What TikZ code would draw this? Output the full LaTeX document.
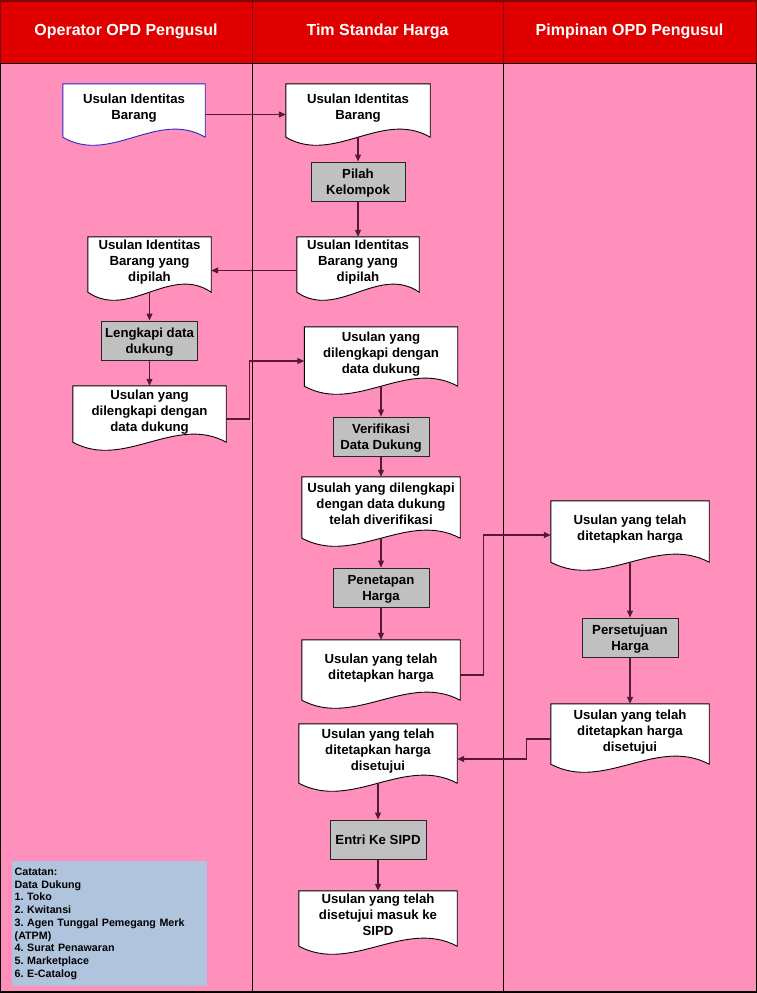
\documentclass[tikz,border=0pt]{standalone}
\usepackage{fontspec}
\setmainfont{Liberation Sans}
\usepackage{tikz}
\usetikzlibrary{arrows.meta,backgrounds,calc,positioning}
\frenchspacing

\definecolor{laneRed}{RGB}{224,0,0}
\definecolor{laneDark}{RGB}{125,10,10}
\definecolor{lanePink}{RGB}{255,143,187}
\definecolor{procGrey}{RGB}{192,192,192}
\definecolor{noteBlue}{RGB}{176,196,222}
\definecolor{flowLine}{RGB}{85,25,55}
\definecolor{docBlue}{RGB}{40,40,200}

\tikzset{
  lanetitle/.style={text=white,font=\bfseries\fontsize{16}{19}\selectfont},
  doc/.style={inner sep=0pt,align=center,text depth=7pt,font=\bfseries\fontsize{13.2}{16}\selectfont},
  proc/.style={draw=black!85,line width=1pt,fill=procGrey,inner sep=0pt,align=center,text depth=0pt,
    minimum width=96,minimum height=39,font=\bfseries\fontsize{13.2}{16}\selectfont},
  docline/.style={fill=white,line width=0.9pt},
  note/.style={fill=noteBlue,inner xsep=2.5pt,inner ysep=0pt,text width=190,minimum height=125,
    align=left,font=\bfseries\fontsize{10.7}{12.7}\selectfont},
  flow/.style={draw=flowLine,line width=1.2pt,-{Triangle[length=7pt,width=6pt]}}
}

% document symbol behind a node: straight top and sides, wavy bottom
\newcommand{\docshape}[2][black]{%
  \begin{scope}[on background layer]
    \draw[docline,draw=#1] (#2.south west) -- (#2.north west) -- (#2.north east) -- (#2.south east)
      .. controls ($(#2.south east)!0.333!(#2.south west)+(0,-28)$) and ($(#2.south west)!0.333!(#2.south east)+(0,28)$) .. (#2.south west) -- cycle;
  \end{scope}}

\begin{document}
\begin{tikzpicture}[x=1pt,y=-1pt]
\useasboundingbox (0,0) rectangle (756,993);

% swimlanes
\begin{scope}[on background layer]
  \foreach \xa/\xb/\ttl [count=\i] in {0/252/Operator OPD Pengusul,252/503/Tim Standar Harga,503/756/Pimpinan OPD Pengusul}{
    \draw[laneDark,line width=1pt,fill=laneRed] (\xa,0) rectangle (\xb,63);
    \draw[black,line width=0.8pt,fill=lanePink] (\xa,63) rectangle (\xb,992);
    \node[lanetitle] (head\i) at ({(\xa+\xb)/2},31.5) {\ttl};
  }
  \draw[laneDark,line width=2pt] (0,1) -- (756,1);
  \draw[black,line width=1.2pt] (0,992) -- (756,992);
\end{scope}

% Operator OPD Pengusul
\node[doc,minimum width=142,minimum height=53] (d1) at (134,110.5) {Usulan Identitas\\Barang};
\node[doc,minimum width=123,minimum height=55] (d5) at (149.5,264.5) {Usulan Identitas\\Barang yang\\dipilah};
\node[proc] (p2) at (149.5,340.5) {Lengkapi data\\dukung};
\node[doc,minimum width=153,minimum height=56] (d7) at (149.5,414) {Usulan yang\\dilengkapi dengan\\data dukung};
\node[note,anchor=north west] (catatan) at (12,861) {Catatan:\\Data Dukung\\1. Toko\\2. Kwitansi\\3. Agen Tunggal Pemegang Merk\\(ATPM)\\4. Surat Penawaran\\5. Marketplace\\6. E-Catalog};

% Tim Standar Harga
\node[doc,minimum width=144,minimum height=53] (d2) at (358,110.5) {Usulan Identitas\\Barang};
\node[proc,minimum width=94] (p1) at (358,181.5) {Pilah\\Kelompok};
\node[doc,minimum width=122,minimum height=55] (d4) at (358,264.5) {Usulan Identitas\\Barang yang\\dipilah};
\node[doc,minimum width=153,minimum height=59] (d8) at (381,356.5) {Usulan yang\\dilengkapi dengan\\data dukung};
\node[proc] (p3) at (381,436.5) {Verifikasi\\Data Dukung};
\node[doc,minimum width=158,minimum height=61] (d10) at (381,507.5) {Usulah yang dilengkapi\\dengan data dukung\\telah diverifikasi};
\node[proc] (p4) at (381,587.5) {Penetapan\\Harga};
\node[doc,minimum width=158,minimum height=60] (d12) at (381,670) {Usulan yang telah\\ditetapkan harga};
\node[doc,minimum width=158,minimum height=59] (d16) at (378,753.5) {Usulan yang telah\\ditetapkan harga\\disetujui};
\node[proc] (p6) at (378,839.5) {Entri Ke SIPD};
\node[doc,minimum width=158,minimum height=55] (d18) at (378,918.5) {Usulan yang telah\\disetujui masuk ke\\SIPD};

% Pimpinan OPD Pengusul
\node[doc,minimum width=158,minimum height=61] (d13) at (630,531.5) {Usulan yang telah\\ditetapkan harga};
\node[proc] (p5) at (630,637.5) {Persetujuan\\Harga};
\node[doc,minimum width=158,minimum height=60] (d15) at (630,734) {Usulan yang telah\\ditetapkan harga\\disetujui};

\docshape[docBlue]{d1}
\docshape{d2}
\docshape{d4}
\docshape{d5}
\docshape{d7}
\docshape{d8}
\docshape{d10}
\docshape{d12}
\docshape{d13}
\docshape{d15}
\docshape{d16}
\docshape{d18}

% connectors
\draw[flow] ([yshift=-4pt]d1.east) -- ([yshift=-4pt]d2.west);
\draw[flow] (d2.south) -- (p1.north);
\draw[flow] (p1.south) -- (d4.north);
\draw[flow] ([yshift=-6pt]d4.west) -- ([yshift=-6pt]d5.east);
\draw[flow] (d5.south) -- (p2.north);
\draw[flow] (p2.south) -- (d7.north);
\draw[flow] ([yshift=-5pt]d7.east) -- ++(23,0) |- ([yshift=-4.5pt]d8.west);
\draw[flow] (d8.south) -- (p3.north);
\draw[flow] (p3.south) -- (d10.north);
\draw[flow] (d10.south) -- (p4.north);
\draw[flow] (p4.south) -- (d12.north);
\draw[flow] ([yshift=-5pt]d12.east) -- ++(23,0) |- ([yshift=-3.5pt]d13.west);
\draw[flow] (d13.south) -- (p5.north);
\draw[flow] (p5.south) -- (d15.north);
\draw[flow] ([yshift=-5pt]d15.west) -- ++(-24,0) |- ([yshift=-5.5pt]d16.east);
\draw[flow] (d16.south) -- (p6.north);
\draw[flow] (p6.south) -- (d18.north);
\end{tikzpicture}
\end{document}
